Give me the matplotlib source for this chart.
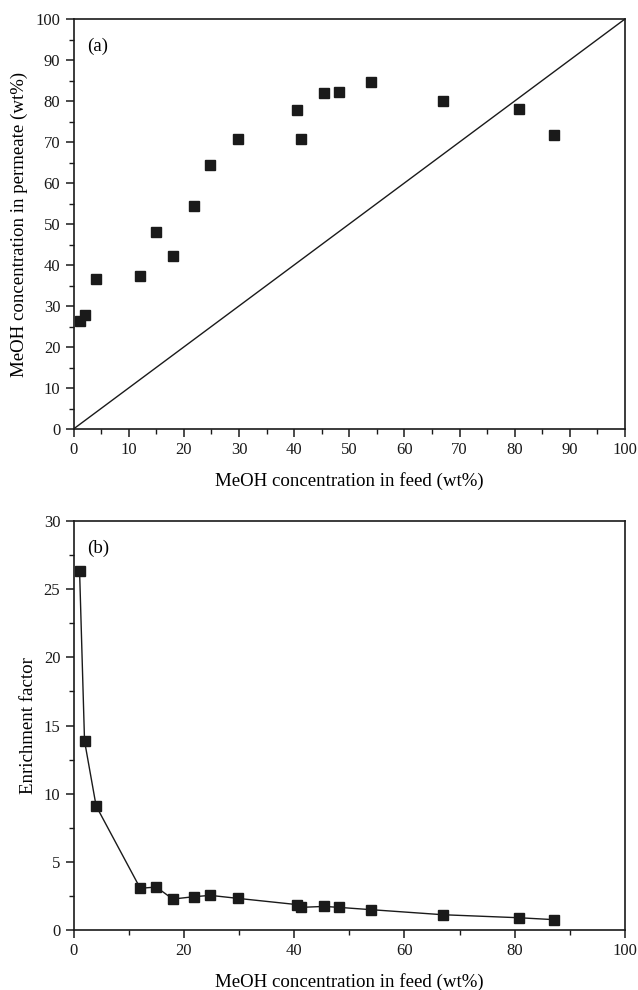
import matplotlib
matplotlib.use("Agg")
import matplotlib.pyplot as plt
from matplotlib.ticker import MultipleLocator

plt.rcParams['font.family'] = ['Liberation Serif', 'DejaVu Serif']

feed = [1.1, 2.0, 4.1, 12.1, 15.0, 18.0, 21.8, 24.8, 29.8, 40.6, 41.2, 45.5, 48.1, 54.0, 67.0, 80.7, 87.1]
permeate = [26.4, 27.8, 36.5, 37.4, 48.0, 42.2, 54.3, 64.3, 70.7, 77.8, 70.7, 82.0, 82.2, 84.7, 80.0, 78.0, 71.8]
enrichment = [26.36, 13.87, 9.1, 3.06, 3.15, 2.27, 2.44, 2.54, 2.32, 1.86, 1.66, 1.73, 1.66, 1.49, 1.12, 0.90, 0.76]
diag = [0, 100]

fig = plt.figure(figsize=(6.38, 9.9), dpi=100)
W, H = 638, 990
ax1 = fig.add_axes([73.5/W, 1-429/H, (625-73.5)/W, (429-19)/H])
ax2 = fig.add_axes([73.5/W, 1-930/H, (625-73.5)/W, (930-521)/H])

ms = 7.2
ax1.plot(diag, diag, color='#1a1a1a', lw=1.0)
ax1.plot(feed, permeate, ls='none', marker='s', ms=ms, color='#1a1a1a')
ax1.set_xlim(0, 100)
ax1.set_ylim(0, 100)
ax1.xaxis.set_major_locator(MultipleLocator(10))
ax1.xaxis.set_minor_locator(MultipleLocator(5))
ax1.yaxis.set_major_locator(MultipleLocator(10))
ax1.yaxis.set_minor_locator(MultipleLocator(5))
ax1.set_xlabel('MeOH concentration in feed (wt%)', fontsize=13.6, labelpad=10)
ax1.set_ylabel('MeOH concentration in permeate (wt%)', fontsize=13.6, labelpad=5)
ax1.text(0.025, 0.955, '(a)', transform=ax1.transAxes, fontsize=13.6, va='top', ha='left')

ax2.plot(feed, enrichment, marker='s', ms=ms, color='#1a1a1a', lw=1.0)
ax2.set_xlim(0, 100)
ax2.set_ylim(0, 30)
ax2.xaxis.set_major_locator(MultipleLocator(20))
ax2.xaxis.set_minor_locator(MultipleLocator(10))
ax2.yaxis.set_major_locator(MultipleLocator(5))
ax2.yaxis.set_minor_locator(MultipleLocator(2.5))
ax2.set_xlabel('MeOH concentration in feed (wt%)', fontsize=13.6, labelpad=10)
ax2.set_ylabel('Enrichment factor', fontsize=13.6, labelpad=5)
ax2.text(0.025, 0.955, '(b)', transform=ax2.transAxes, fontsize=13.6, va='top', ha='left')

for ax in (ax1, ax2):
    for s in ax.spines.values():
        s.set_linewidth(1.2)
        s.set_color('#1a1a1a')
    ax.tick_params(which='both', direction='out', top=False, right=False, colors='#1a1a1a', labelsize=12)
    ax.tick_params(which='major', length=6, width=1.1)
    ax.tick_params(which='minor', length=3.5, width=1.0)

fig.savefig('out.png', dpi=100)
